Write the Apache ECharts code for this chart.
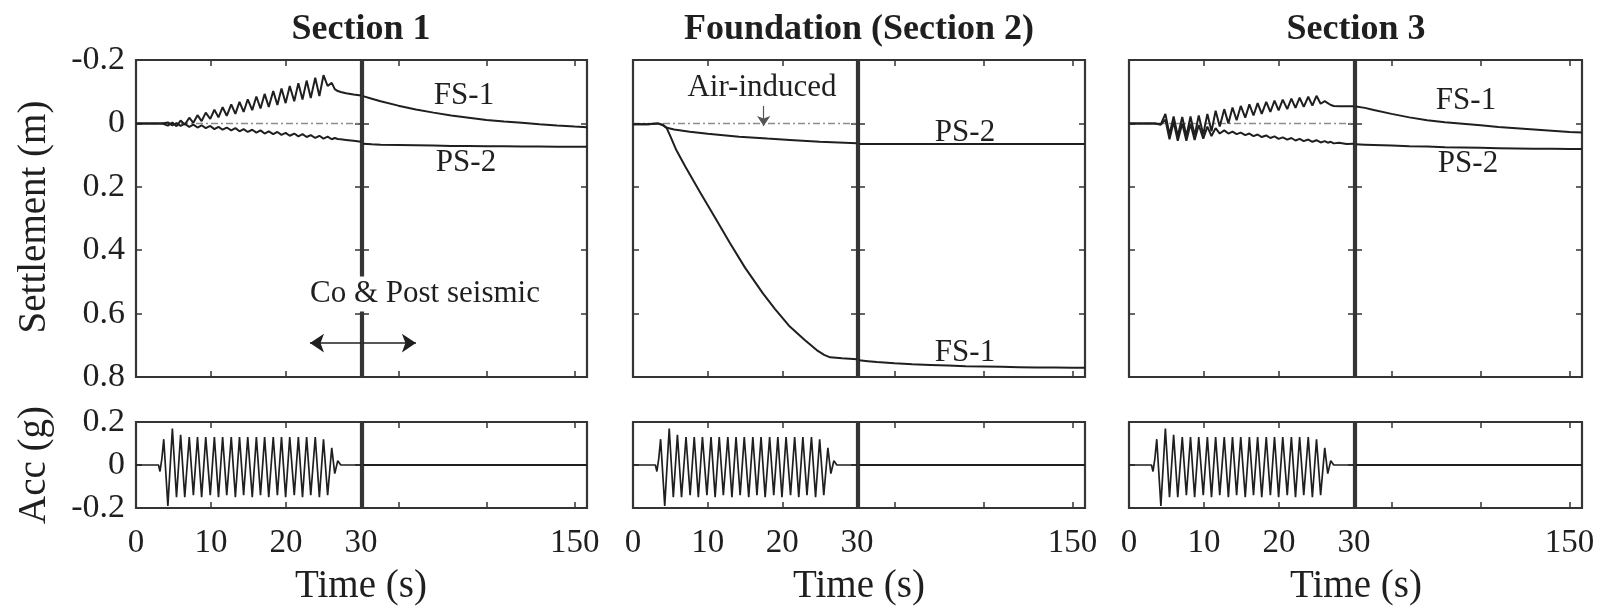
<!DOCTYPE html>
<html>
<head>
<meta charset="utf-8">
<script src="https://cdn.jsdelivr.net/npm/echarts@6/dist/echarts.min.js"></script>
<style>
  html, body { margin: 0; padding: 0; background: #ffffff; }
  #chart { width: 1604px; height: 610px; }
</style>
</head>
<body>
<div id="chart"></div>
<script>
// ---- time bases (s) ----
const shakeTime = [0, 3.0, 3.2, 3.45, 3.7, 4.25, 4.85, 5.4, 5.95, 6.5, 7.1, 7.65, 8.2, 8.75, 9.3, 9.9,
  10.45, 11.0, 11.55, 12.1, 12.7, 13.25, 13.8, 14.35, 14.9, 15.5, 16.05, 16.6, 17.15, 17.7, 18.3,
  18.85, 19.4, 19.95, 20.5, 21.1, 21.65, 22.2, 22.75, 23.3, 23.9, 24.45, 25.0, 25.55, 26.1, 26.5,
  26.9, 27.3, 28.0, 29.0, 30.0];
const postTime = [30, 35, 40, 50, 60, 70, 80, 90, 100, 110, 120, 130, 140, 150, 157];

// ---- base input acceleration (g) ----
const baseAcc = [0, 0, -0.03, 0.03, 0.12, -0.19, 0.17, -0.15, 0.14, -0.15, 0.13, -0.14, 0.13, -0.15,
  0.13, -0.14, 0.13, -0.15, 0.13, -0.14, 0.13, -0.15, 0.13, -0.14, 0.13, -0.15, 0.13, -0.14, 0.13,
  -0.15, 0.13, -0.14, 0.13, -0.15, 0.13, -0.14, 0.13, -0.15, 0.13, -0.14, 0.13, -0.15, 0.12, -0.14,
  0.08, -0.04, 0.02, 0, 0, 0, 0];
const accPostTime = [30, 157];
const accPostVal = [0, 0];

// ---- Section 1 settlement (m), negative = heave ----
const s1FS1Shake = [0, 0, 0, 0, -0.003, 0.007, -0.003, 0.009, -0.009, 0.004, -0.018, -0.002, -0.026,
  -0.007, -0.034, -0.014, -0.043, -0.019, -0.051, -0.024, -0.060, -0.030, -0.068, -0.036, -0.076,
  -0.042, -0.085, -0.047, -0.093, -0.052, -0.102, -0.058, -0.110, -0.064, -0.118, -0.070, -0.127,
  -0.075, -0.135, -0.080, -0.144, -0.086, -0.152, -0.118, -0.128, -0.108, -0.102, -0.099, -0.095,
  -0.091, -0.088];
const s1PS2Shake = [0, 0, 0, 0, 0, -0.003, 0.006, -0.001, 0.008, 0.001, 0.011, 0.004, 0.013, 0.006,
  0.015, 0.008, 0.018, 0.011, 0.020, 0.013, 0.022, 0.015, 0.025, 0.018, 0.027, 0.020, 0.029, 0.022,
  0.032, 0.025, 0.034, 0.027, 0.036, 0.030, 0.039, 0.032, 0.041, 0.034, 0.043, 0.037, 0.046, 0.039,
  0.048, 0.042, 0.050, 0.046, 0.049, 0.050, 0.052, 0.055, 0.058];
const s1FS1Post = [-0.086, -0.078, -0.070, -0.056, -0.044, -0.034, -0.025, -0.018, -0.011, -0.006,
  -0.002, 0.003, 0.007, 0.010, 0.012];
const s1PS2Post = [0.064, 0.066, 0.067, 0.068, 0.069, 0.070, 0.071, 0.071, 0.072, 0.072, 0.073,
  0.073, 0.074, 0.074, 0.074];

// ---- Foundation (Section 2) settlement (m) ----
const fdFS1Time = [0, 2, 3.3, 4.0, 4.5, 5.0, 5.8, 7, 9, 11, 13, 15, 17.4, 19, 21, 23, 24.6, 25.6, 26.4, 28, 30];
const fdFS1Shake = [0.003, 0.003, 0.0, 0.004, 0.014, 0.040, 0.084, 0.136, 0.218, 0.298, 0.378, 0.455,
  0.536, 0.585, 0.641, 0.683, 0.715, 0.730, 0.738, 0.741, 0.744];
const fdPS2Time = [0, 2, 3.3, 4.0, 4.4, 5.5, 7.6, 10, 14.2, 18, 21, 25, 30];
const fdPS2Shake = [0.003, 0.003, 0.0, 0.006, 0.013, 0.019, 0.026, 0.033, 0.042, 0.048, 0.052, 0.058, 0.063];
const fdFS1Post = [0.747, 0.750, 0.753, 0.757, 0.760, 0.762, 0.764, 0.766, 0.767, 0.768, 0.769,
  0.770, 0.770, 0.771, 0.771];
const fdPS2Post = [0.065, 0.065, 0.065, 0.065, 0.065, 0.065, 0.065, 0.065, 0.065, 0.065, 0.065,
  0.065, 0.065, 0.065, 0.065];

// ---- Section 3 settlement (m) ----
const s3FS1Shake = [0, 0, 0, 0, 0, 0.002, -0.03, 0.035, -0.022, 0.04, -0.02, 0.04, -0.022, 0.038,
  -0.025, 0.035, -0.03, 0.025, -0.04, 0.01, -0.045, 0.0, -0.05, -0.01, -0.055, -0.018, -0.06, -0.025,
  -0.064, -0.03, -0.068, -0.036, -0.072, -0.041, -0.075, -0.045, -0.078, -0.049, -0.081, -0.052,
  -0.084, -0.056, -0.087, -0.062, -0.07, -0.064, -0.058, -0.055, -0.054, -0.054, -0.054];
const s3PS2Shake = [0, 0, 0, 0, 0, 0.004, -0.012, 0.05, -0.005, 0.055, 0.0, 0.055, 0.002, 0.052,
  0.005, 0.048, 0.01, 0.04, 0.015, 0.032, 0.022, 0.032, 0.026, 0.034, 0.029, 0.037, 0.032, 0.040,
  0.035, 0.043, 0.038, 0.046, 0.041, 0.049, 0.044, 0.051, 0.046, 0.054, 0.049, 0.056, 0.051, 0.058,
  0.053, 0.060, 0.056, 0.061, 0.058, 0.063, 0.061, 0.065, 0.064];
const s3FS1Post = [-0.053, -0.049, -0.042, -0.030, -0.019, -0.010, -0.004, 0.001, 0.006, 0.011,
  0.015, 0.019, 0.023, 0.027, 0.029];
const s3PS2Post = [0.066, 0.067, 0.068, 0.070, 0.072, 0.073, 0.075, 0.076, 0.077, 0.078, 0.079,
  0.080, 0.080, 0.081, 0.081];

// ---- reference zero line and annotation arrows ----
const zeroRefTime = [0, 30];
const zeroRefVal = [0, 0];
const coArrowTime = [23.2, 30, 60];
const coArrowLevel = 0.693;
const airArrowTime = 17.5;
const airArrowVal = [-0.055, 0.008];

// ---- axis ticks and labels ----
const settleTicks = [-0.2, 0, 0.2, 0.4, 0.6, 0.8];
const accTicks = [-0.2, 0, 0.2];
const shakeTicks = [0, 10, 20, 30];
const postTicks = [50, 100, 150];
const postLabels = [150];

// ---- styling ----
const INK = '#1f1f1f';
const FRAME = '#353535';
const SERIF = "'Liberation Serif', 'Times New Roman', serif";
const TOP_Y = 60, TOP_H = 317, ACC_Y = 422, ACC_H = 86;

function pairs(ts, vs) { return ts.map((t, i) => [t, vs[i]]); }
function fmtY(v) { const r = Math.round(v * 10) / 10; return r === 0 ? '0' : String(r); }

const panels = [
  { title: 'Section 1', cx: 361, shakeBox: [136, 225], postBox: [363, 224],
    fs1: [pairs(shakeTime, s1FS1Shake), pairs(postTime, s1FS1Post)],
    ps2: [pairs(shakeTime, s1PS2Shake), pairs(postTime, s1PS2Post)],
    fsAt: [464, 96], psAt: [466, 163], yLabels: true },
  { title: 'Foundation (Section 2)', cx: 859, shakeBox: [633, 224], postBox: [859, 226],
    fs1: [pairs(fdFS1Time, fdFS1Shake), pairs(postTime, fdFS1Post)],
    ps2: [pairs(fdPS2Time, fdPS2Shake), pairs(postTime, fdPS2Post)],
    fsAt: [965, 353], psAt: [965, 133], yLabels: false },
  { title: 'Section 3', cx: 1356, shakeBox: [1129, 225], postBox: [1356, 226],
    fs1: [pairs(shakeTime, s3FS1Shake), pairs(postTime, s3FS1Post)],
    ps2: [pairs(shakeTime, s3PS2Shake), pairs(postTime, s3PS2Post)],
    fsAt: [1466, 101], psAt: [1468, 164], yLabels: false }
];

const grids = [], xAxes = [], yAxes = [], series = [];

function tickStyle(values) {
  return { show: true, inside: true, length: 6, customValues: values,
           lineStyle: { color: FRAME, width: 1.5 } };
}

// one boxed plot: grid + bottom/top x axes + left/right y axes (ticks on all four sides)
function addBox(left, width, top, height, xr, yr) {
  const g = grids.length;
  grids.push({ left: left, top: top, width: width, height: height, show: true,
               borderColor: FRAME, borderWidth: 2.2, backgroundColor: 'transparent',
               outerBoundsMode: 'none' });
  const xBase = { type: 'value', gridIndex: g, min: xr.min, max: xr.max,
                  axisLine: { show: false, onZero: false }, splitLine: { show: false } };
  xAxes.push(Object.assign({}, xBase, { position: 'bottom', axisTick: tickStyle(xr.ticks),
    axisLabel: xr.labels ? { show: true, customValues: xr.labels, margin: 19, fontSize: 33,
      fontFamily: SERIF, color: INK, formatter: v => String(v) } : { show: false } }));
  xAxes.push(Object.assign({}, xBase, { position: 'top', axisTick: tickStyle(xr.ticks),
    axisLabel: { show: false } }));
  const yBase = { type: 'value', gridIndex: g, min: yr.min, max: yr.max, interval: 0.2,
                  inverse: !!yr.inverse, axisLine: { show: false, onZero: false },
                  splitLine: { show: false } };
  yAxes.push(Object.assign({}, yBase, { position: 'left', axisTick: tickStyle(yr.ticks),
    axisLabel: yr.labels ? { show: true, margin: 11, fontSize: 34, fontFamily: SERIF,
      color: INK, formatter: fmtY } : { show: false } }));
  yAxes.push(Object.assign({}, yBase, { position: 'right', axisTick: tickStyle(yr.ticks),
    axisLabel: { show: false } }));
  return g;
}

function lineSeries(g, data, extra) {
  return Object.assign({ type: 'line', xAxisIndex: 2 * g, yAxisIndex: 2 * g, data: data,
    showSymbol: false, symbol: 'none', silent: true, animation: false, z: 3,
    lineStyle: { color: INK, width: 2 } }, extra || {});
}

const graphic = [];
function addText(x, y, text, size, opts) {
  graphic.push(Object.assign({ type: 'text', x: x, y: y, z: 100,
    style: Object.assign({ text: text, fill: INK, align: 'center', verticalAlign: 'middle',
      font: size + 'px ' + SERIF }, (opts && opts.style) || {}) }, (opts && opts.el) || {}));
}

panels.forEach((p, pi) => {
  const settleY = { min: -0.2, max: 0.8, ticks: settleTicks, inverse: true };
  const accY = { min: -0.2, max: 0.2, ticks: accTicks, inverse: false };
  const shakeX = { min: 0, max: 30, ticks: shakeTicks };
  const postX = { min: 30, max: 157, ticks: postTicks };

  const gS = addBox(p.shakeBox[0], p.shakeBox[1], TOP_Y, TOP_H, shakeX,
                    Object.assign({ labels: p.yLabels }, settleY));
  const gP = addBox(p.postBox[0], p.postBox[1], TOP_Y, TOP_H, postX, settleY);
  const gAS = addBox(p.shakeBox[0], p.shakeBox[1], ACC_Y, ACC_H,
                     Object.assign({ labels: shakeTicks }, shakeX),
                     Object.assign({ labels: p.yLabels }, accY));
  const gAP = addBox(p.postBox[0], p.postBox[1], ACC_Y, ACC_H,
                     Object.assign({ labels: postLabels }, postX), accY);

  // dash-dot zero reference during shaking
  series.push(lineSeries(gS, pairs(zeroRefTime, zeroRefVal),
    { z: 2, lineStyle: { color: '#8c8c8c', width: 1.5, type: [7, 3, 2, 3] } }));

  const fsShake = lineSeries(gS, p.fs1[0]);
  const fsPost = lineSeries(gP, p.fs1[1]);
  if (pi === 0) {
    const arrowLine = { silent: true, animation: false, symbolSize: 14,
      label: { show: false }, lineStyle: { color: INK, width: 1.6, type: 'solid' } };
    fsShake.markLine = Object.assign({ symbol: ['arrow', 'none'],
      data: [[{ coord: [coArrowTime[0], coArrowLevel] }, { coord: [coArrowTime[1], coArrowLevel] }]] },
      arrowLine);
    fsPost.markLine = Object.assign({ symbol: ['none', 'arrow'],
      data: [[{ coord: [coArrowTime[1], coArrowLevel] }, { coord: [coArrowTime[2], coArrowLevel] }]] },
      arrowLine);
  }
  const psShake = lineSeries(gS, p.ps2[0]);
  if (pi === 1) {
    psShake.markLine = { silent: true, animation: false, symbol: ['none', 'arrow'], symbolSize: 10,
      label: { show: false }, lineStyle: { color: '#555555', width: 1.2, type: 'solid' },
      data: [[{ coord: [airArrowTime, airArrowVal[0]] }, { coord: [airArrowTime, airArrowVal[1]] }]] };
  }
  series.push(fsShake, psShake, fsPost, lineSeries(gP, p.ps2[1]));

  series.push(lineSeries(gAS, pairs(shakeTime, baseAcc), { lineStyle: { color: INK, width: 1.7 } }));
  series.push(lineSeries(gAP, pairs(accPostTime, accPostVal)));

  addText(p.cx, 30, p.title, 36, { style: { font: 'bold 36px ' + SERIF } });
  addText(p.cx, 587, 'Time (s)', 39);
  addText(p.fsAt[0], p.fsAt[1], 'FS-1', 31);
  addText(p.psAt[0], p.psAt[1], 'PS-2', 31);
});

addText(35, 217, 'Settlement (m)', 39, { el: { rotation: Math.PI / 2 } });
addText(35, 465, 'Acc (g)', 39, { el: { rotation: Math.PI / 2 } });
addText(425, 294, 'Co & Post seismic', 31, { style: { backgroundColor: '#ffffff', padding: [2, 3] } });
addText(762, 88, 'Air-induced', 31);

const chart = echarts.init(document.getElementById('chart'), null, { renderer: 'canvas' });
chart.setOption({
  backgroundColor: '#ffffff',
  animation: false,
  grid: grids,
  xAxis: xAxes,
  yAxis: yAxes,
  series: series,
  graphic: graphic
});
</script>
</body>
</html>
